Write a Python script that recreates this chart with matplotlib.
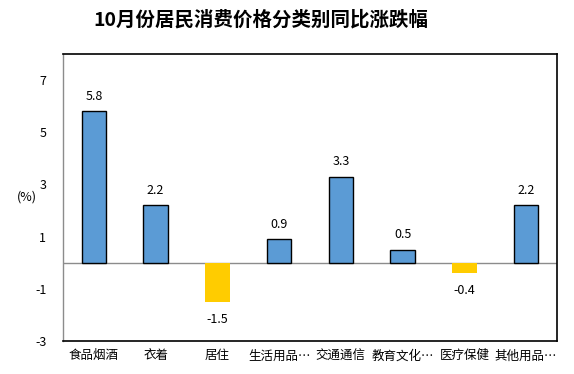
import matplotlib
matplotlib.use("Agg")
import matplotlib.pyplot as plt
import numpy as np

plt.rcParams['font.family'] = ['Noto Sans CJK SC', 'DejaVu Sans']

categories = ["食品烟酒", "衣着", "居住", "生活用品…", "交通通信", "教育文化…", "医疗保健", "其他用品…"]
values = [5.8, 2.2, -1.5, 0.9, 3.3, 0.5, -0.4, 2.2]
yticks = [-3, -1, 1, 3, 5, 7]

fig = plt.figure(figsize=(5.74, 3.74), dpi=100, facecolor='white')
ax = fig.add_axes([0.1098, 0.0882, 0.8606, 0.7674])

x = np.arange(len(categories))
for xi, v in zip(x, values):
    if v >= 0:
        ax.bar(xi, v, width=0.4, color='#5B9BD5', edgecolor='black', linewidth=1.0, zorder=3)
        ax.annotate("%.1f" % v, (xi, v), xytext=(0, 6), textcoords='offset points',
                    ha='center', va='bottom', fontsize=9)
    else:
        ax.bar(xi, v, width=0.4, color='#FFCC00', edgecolor='none', zorder=3)
        ax.annotate("%.1f" % v, (xi, v), xytext=(0, -8), textcoords='offset points',
                    ha='center', va='top', fontsize=9)

ax.axhline(0, color='#8c8c8c', linewidth=1.0, zorder=2)
ax.set_xlim(-0.5, len(categories) - 0.5)
ax.set_ylim(-3, 8)
ax.set_yticks(yticks)
ax.set_yticklabels([str(t) for t in yticks], fontsize=9)
ax.set_xticks(x)
ax.set_xticklabels(categories, fontsize=9)
ax.tick_params(axis='both', length=0, pad=6)
ax.tick_params(axis='y', pad=12)

for side in ['top', 'right', 'bottom']:
    ax.spines[side].set_color('black')
    ax.spines[side].set_linewidth(1.2)
ax.spines['left'].set_color('#8c8c8c')
ax.spines['left'].set_linewidth(1.0)

fig.text(27 / 574, 1 - 197 / 374, "(%)", fontsize=9, ha='center', va='center')
fig.text(261 / 574, 1 - 20 / 374, "10月份居民消费价格分类别同比涨跌幅", fontsize=14,
         fontweight='bold', ha='center', va='center')

fig.savefig("out.png", dpi=100, facecolor='white')
